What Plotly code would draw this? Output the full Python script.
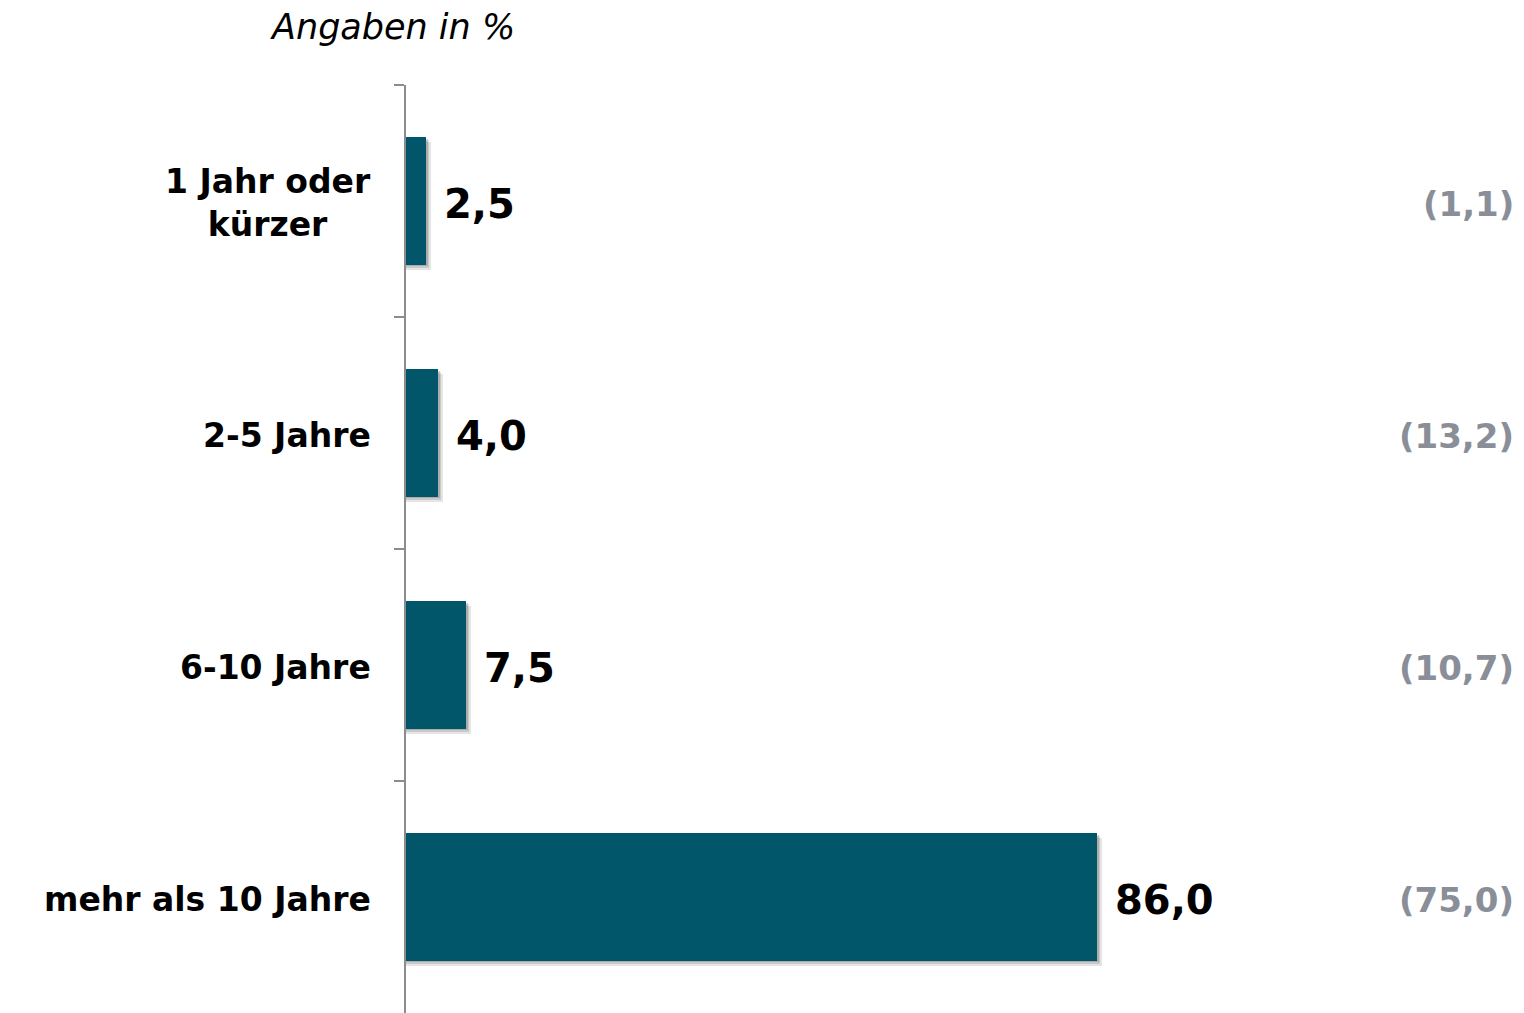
import plotly.graph_objects as go

categories = ["1 Jahr oder<br>kürzer", "2-5 Jahre", "6-10 Jahre", "mehr als 10 Jahre"]
values = [2.5, 4.0, 7.5, 86.0]
previous = [1.1, 13.2, 10.7, 75.0]
title_text = "Angaben in %"

BAR = "#02566a"
GREY = "#8a8e98"
FONT = "DejaVu Sans"


def de(v):
    return f"{v:.1f}".replace(".", ",")


fig = go.Figure()

# soft drop shadow (layered, offset right/down)
for dx, dy, a in [(0.55, 0.022, 0.10), (0.35, 0.014, 0.12), (0.18, 0.007, 0.14)]:
    fig.add_trace(go.Bar(
        x=[v + dx for v in values], y=categories, orientation="h",
        width=0.55, offset=-0.275 + dy,
        marker=dict(color=f"rgba(0,0,0,{a})", line=dict(width=0)),
        hoverinfo="skip", showlegend=False,
    ))

fig.add_trace(go.Bar(
    x=values, y=categories, orientation="h", width=0.55, offset=-0.275,
    marker=dict(color=BAR, line=dict(width=0)), showlegend=False,
))

annotations = []
for c, v, p in zip(categories, values, previous):
    annotations.append(dict(
        x=v, y=c, xref="x", yref="y", text=de(v), showarrow=False,
        xanchor="left", yanchor="middle", xshift=16, yshift=-3,
        font=dict(family=FONT, size=40, color="black", weight="bold"),
    ))
    annotations.append(dict(
        x=1, y=c, xref="paper", yref="y", text=f"({de(p)})", showarrow=False,
        xanchor="right", yanchor="middle", xshift=-8, yshift=-3,
        font=dict(family=FONT, size=34, color=GREY, weight="bold"),
    ))
    annotations.append(dict(
        x=0, y=c, xref="paper", yref="y", text=c, showarrow=False,
        xanchor="right", yanchor="middle", xshift=-33, yshift=-2, align="center",
        font=dict(family=FONT, size=33, color="black", weight="bold"),
    ))

# title placed in pixel terms relative to the plot area (left 406, top 85, height 928)
annotations.append(dict(
    x=(392 - 406) / 1118, y=(1013 - 27) / 928, xref="paper", yref="paper",
    text=title_text, showarrow=False, xanchor="center", yanchor="middle",
    font=dict(family=FONT, size=35, color="black", style="italic"),
))

fig.update_layout(
    width=1524, height=1013,
    margin=dict(l=406, r=0, t=85, b=0, pad=0),
    paper_bgcolor="white", plot_bgcolor="white",
    barmode="overlay", bargap=0,
    annotations=annotations,
    xaxis=dict(range=[0, 139.1], visible=False, fixedrange=True),
    yaxis=dict(
        type="category", categoryorder="array", categoryarray=categories,
        range=[3.5, -0.5], showline=True, linecolor="#8c8c8c", linewidth=2,
        ticks="outside", ticklen=10, tickwidth=2, tickcolor="#8c8c8c",
        tickson="boundaries", showticklabels=False, showgrid=False,
        zeroline=False, fixedrange=True,
    ),
)

fig.write_html("out.html")
